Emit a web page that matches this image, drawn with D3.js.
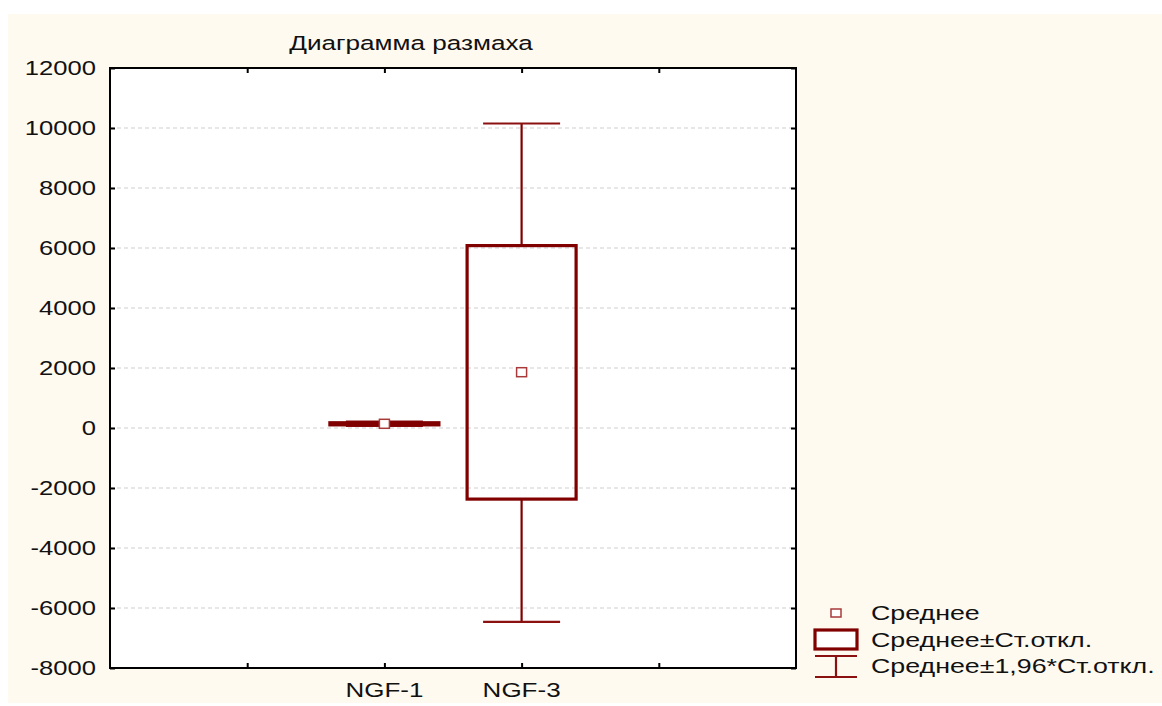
<!DOCTYPE html>
<html><head><meta charset="utf-8">
<script src="https://cdn.jsdelivr.net/npm/d3@7/dist/d3.min.js"></script>
<style>html,body{margin:0;padding:0;background:#fff;}svg{display:block;}</style>
</head><body>
<svg id="c" width="1162" height="706"></svg>
<script>
// ---- data ----
const categories = ["NGF-1", "NGF-3"];
const categoryPos = [2, 3];
const means = [140, 1860];
const sdLow = [105, -2370];
const sdHigh = [175, 6080];
const ciLow = [70, -6460];
const ciHigh = [210, 10150];
const yTicks = [-8000, -6000, -4000, -2000, 0, 2000, 4000, 6000, 8000, 10000, 12000];
const xTicks = [1, 2, 3, 4];
const title = "Диаграмма размаха";
const legendLabels = ["Среднее", "Среднее±Ст.откл.", "Среднее±1,96*Ст.откл."];

// ---- layout ----
const svg = d3.select("#c");
const L = 110, R = 796, T = 68, B = 668;
const red = "#800000", markRed = "#a83a3a";
const font = "'Liberation Sans', Arial, sans-serif";
const fs = 20;

svg.append("rect").attr("x", 8).attr("y", 14).attr("width", 1162 - 8).attr("height", 703 - 14).attr("fill", "#fffaf0");

const x = d3.scaleLinear().domain([0, 5]).range([L, R]);
const y = d3.scaleLinear().domain([-8000, 12000]).range([B, T]);

function txt(g, s, px, py, anchor, size, sx) {
  return g.append("text")
    .attr("transform", `translate(${px},${py}) scale(${sx || 1.34},1)`)
    .attr("text-anchor", anchor)
    .attr("font-family", font)
    .attr("font-size", size || fs)
    .attr("fill", "#111")
    .text(s);
}

// plot area
svg.append("rect").attr("x", L).attr("y", T).attr("width", R - L).attr("height", B - T).attr("fill", "#fff");

// gridlines
svg.append("g").selectAll("line").data(yTicks.filter(v => v > -8000 && v < 12000)).join("line")
  .attr("x1", L).attr("x2", R).attr("y1", d => y(d)).attr("y2", d => y(d))
  .attr("stroke", "#cfcfcf").attr("stroke-width", 1).attr("stroke-dasharray", "4,3");

// y axis (left labels), inward ticks
const ya = svg.append("g").attr("transform", `translate(${L},0)`)
  .call(d3.axisLeft(y).tickValues(yTicks).tickSize(-5).tickFormat(""));
ya.select(".domain").remove();
ya.selectAll("line").attr("stroke", "#000").attr("stroke-width", 2);
yTicks.forEach(v => txt(svg, String(v), L - 14, y(v) + 7, "end", 20, 1.28));

// right ticks
const yr = svg.append("g").attr("transform", `translate(${R},0)`)
  .call(d3.axisRight(y).tickValues(yTicks).tickSize(-5).tickFormat(""));
yr.select(".domain").remove();
yr.selectAll("line").attr("stroke", "#000").attr("stroke-width", 2);

// x ticks bottom & top inward
const xb = svg.append("g").attr("transform", `translate(0,${B})`)
  .call(d3.axisBottom(x).tickValues(xTicks).tickSize(-5).tickFormat(""));
xb.select(".domain").remove();
xb.selectAll("line").attr("stroke", "#000").attr("stroke-width", 2);
const xt = svg.append("g").attr("transform", `translate(0,${T})`)
  .call(d3.axisTop(x).tickValues(xTicks).tickSize(-5).tickFormat(""));
xt.select(".domain").remove();
xt.selectAll("line").attr("stroke", "#000").attr("stroke-width", 2);

categories.forEach((c, i) => txt(svg, c, x(categoryPos[i]), 697, "middle", 20, 1.3));

// frame
svg.append("rect").attr("x", L).attr("y", T).attr("width", R - L).attr("height", B - T)
  .attr("fill", "none").attr("stroke", "#000").attr("stroke-width", 2);

// boxes
const boxW = 109, capW = 77;
const g = svg.append("g");
categories.forEach((c, i) => {
  const cx = x(categoryPos[i]);
  g.append("line").attr("x1", cx).attr("x2", cx).attr("y1", y(sdHigh[i])).attr("y2", y(ciHigh[i])).attr("stroke", red).attr("stroke-width", 2.2);
  g.append("line").attr("x1", cx).attr("x2", cx).attr("y1", y(sdLow[i])).attr("y2", y(ciLow[i])).attr("stroke", red).attr("stroke-width", 2.2);
  [ciHigh[i], ciLow[i]].forEach(v => g.append("line").attr("x1", cx - capW / 2).attr("x2", cx + capW / 2)
    .attr("y1", y(v)).attr("y2", y(v)).attr("stroke", "#8b1010").attr("stroke-width", 2.2));
  g.append("rect").attr("x", cx - boxW / 2).attr("width", boxW)
    .attr("y", y(sdHigh[i])).attr("height", y(sdLow[i]) - y(sdHigh[i]))
    .attr("fill", "none").attr("stroke", red).attr("stroke-width", 3.2);
  g.append("rect").attr("x", cx - 5).attr("y", y(means[i]) - 4.5).attr("width", 10).attr("height", 9)
    .attr("fill", "#fff").attr("stroke", markRed).attr("stroke-width", 1.5);
});

// title
txt(svg, title, 411, 50, "middle", 19.5, 1.34);

// legend
const lg = svg.append("g");
lg.append("rect").attr("x", 831).attr("y", 609).attr("width", 10).attr("height", 8)
  .attr("fill", "#fff").attr("stroke", markRed).attr("stroke-width", 1.5);
lg.append("rect").attr("x", 815).attr("y", 630).attr("width", 42).attr("height", 19)
  .attr("fill", "#fff").attr("stroke", red).attr("stroke-width", 3.2);
lg.append("line").attr("x1", 815).attr("x2", 857).attr("y1", 656).attr("y2", 656).attr("stroke", "#8b1010").attr("stroke-width", 2.2);
lg.append("line").attr("x1", 815).attr("x2", 857).attr("y1", 677).attr("y2", 677).attr("stroke", "#8b1010").attr("stroke-width", 2.2);
lg.append("line").attr("x1", 836).attr("x2", 836).attr("y1", 656).attr("y2", 677).attr("stroke", "#8b1010").attr("stroke-width", 2.2);
legendLabels.forEach((s, i) => txt(lg, s, 871, 620 + i * 26.5, "start", 20, 1.34));
</script>
</body></html>
